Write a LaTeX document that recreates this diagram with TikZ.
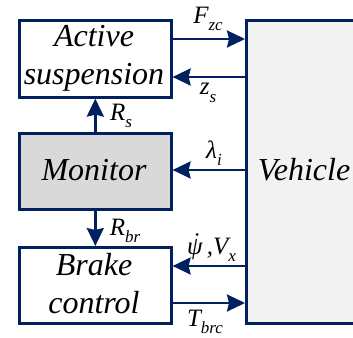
\documentclass[tikz,border=0pt]{standalone}
\usepackage{fontspec}
\setmainfont{Liberation Serif}
\usetikzlibrary{arrows.meta}
\definecolor{navy}{RGB}{0,32,96}
\definecolor{monfill}{RGB}{217,217,217}
\definecolor{vehfill}{RGB}{242,242,242}
\newcommand{\sbx}[1]{\raisebox{-0.3em}{\fontsize{17}{17}\selectfont\itshape #1}}
\tikzset{
  blk/.style={draw=navy, line width=2.6pt, fill=white, inner sep=0pt, anchor=north west},
  txt/.style={font=\fontsize{32}{38}\selectfont\itshape, align=center, inner sep=0pt},
  sig/.style={draw=navy, line width=2.6pt, -{Stealth[length=18pt,width=17pt,inset=2pt]}},
  lbl/.style={font=\fontsize{25}{25}\selectfont\itshape, inner sep=0pt}
}
\begin{document}
\begin{tikzpicture}[x=1pt,y=-1pt]
\useasboundingbox (0,0) rectangle (353,337);
\clip (0,0) rectangle (353,337);
\node[blk, minimum width=152pt, minimum height=77pt] (act) at (18,19) {};
\node[txt] (actt) at (94,58) {Active\\suspension};
\node[blk, fill=monfill, minimum width=152pt, minimum height=76pt] (mon) at (18,132) {};
\node[txt] (mont) at (94,170) {Monitor};
\node[blk, minimum width=152pt, minimum height=76pt] (brk) at (18,246) {};
\node[txt] (brkt) at (94,284) {Brake\\control};
\node[blk, fill=vehfill, minimum width=130pt, minimum height=303pt] (veh) at (245,19) {};
\node[txt] (veht) at (304,170) {Vehicle};
% coordinates on box edges
\coordinate (a1) at (act.east |- 0,39);
\coordinate (v1) at (veh.west |- 0,39);
\coordinate (a2) at (act.east |- 0,77);
\coordinate (v2) at (veh.west |- 0,77);
\coordinate (m3) at (mon.east |- 0,170);
\coordinate (v3) at (veh.west |- 0,170);
\coordinate (b4) at (brk.east |- 0,266);
\coordinate (v4) at (veh.west |- 0,266);
\coordinate (b5) at (brk.east |- 0,303);
\coordinate (v5) at (veh.west |- 0,303);
% signals
\draw[sig] (mon.north) -- (act.south);
\draw[sig] (mon.south) -- (brk.north);
\draw[sig] (a1) -- (v1);
\draw[sig] (v2) -- (a2);
\draw[sig] (v3) -- (m3);
\draw[sig] (v4) -- (b4);
\draw[sig] (b5) -- (v5);
% labels
\node[lbl] (lr) at (121,116) {R\sbx{s}};
\node[lbl] (lrb) at (125,231) {R\sbx{br}};
\node[lbl] (lf) at (208,19) {F\sbx{zc}};
\node[lbl] (lz) at (208,93) {z\sbx{s}};
\node[lbl] (ll) at (214,153) {λ\sbx{i}};
\node[lbl, anchor=base west] (lp) at (187,254) {ψ\,,V\sbx{x}};
\fill[black] (197,234.5) circle (1.5pt);
\node[lbl] (lt) at (205,322) {T\sbx{brc}};
\end{tikzpicture}
\end{document}
